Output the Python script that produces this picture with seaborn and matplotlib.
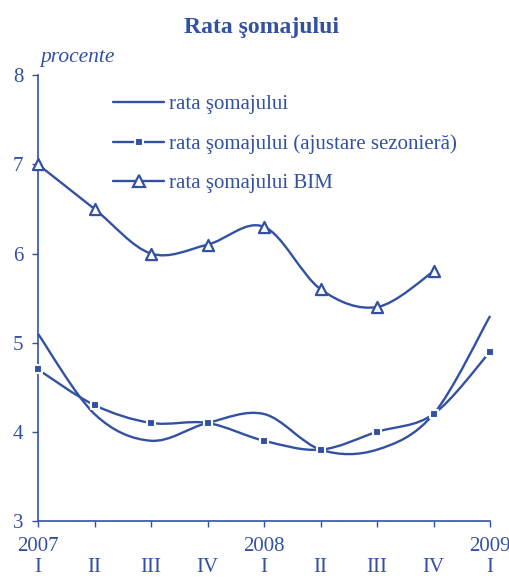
import matplotlib.pyplot as plt
import seaborn as sns
import numpy as np
import pandas as pd
from matplotlib.path import Path
from matplotlib.patches import PathPatch
from matplotlib.lines import Line2D

quarters = ['I', 'II', 'III', 'IV', 'I', 'II', 'III', 'IV', 'I']
years = {0: '2007', 4: '2008', 8: '2009'}
rata = [5.1, 4.2, 3.9, 4.1, 4.2, 3.8, 3.8, 4.2, 5.3]
rata_sa = [4.7, 4.3, 4.1, 4.1, 3.9, 3.8, 4.0, 4.2, 4.9]
rata_bim = [7.0, 6.5, 6.0, 6.1, 6.3, 5.6, 5.4, 5.8]

labels = ['rata şomajului', 'rata şomajului (ajustare sezonieră)', 'rata şomajului BIM']

blue = '#3351a3'

sns.set_style('white')
plt.rcParams['font.family'] = ['Liberation Serif', 'DejaVu Serif']


def smooth_path(xs, ys):
    # Excel-like smoothed line: cubic Bezier through the data points
    pts = np.column_stack([xs, ys]).astype(float)
    n = len(pts)
    verts = [pts[0]]
    codes = [Path.MOVETO]
    for i in range(n - 1):
        p0 = pts[i - 1] if i > 0 else pts[i]
        p1 = pts[i]
        p2 = pts[i + 1]
        p3 = pts[i + 2] if i + 2 < n else pts[i + 1]
        c1 = p1 + (p2 - p0) / 6.0
        c2 = p2 - (p3 - p1) / 6.0
        verts += [c1, c2, p2]
        codes += [Path.CURVE4] * 3
    return Path(verts, codes)


fig = plt.figure(figsize=(5.1, 5.79), dpi=100)
ax = fig.add_axes([0.0745, 0.1002, 0.8865, 0.7698])

x = np.arange(len(quarters))
for vals in [rata, rata_sa, rata_bim]:
    ax.add_patch(PathPatch(smooth_path(x[:len(vals)], vals), fill=False,
                           edgecolor=blue, lw=1.7, transform=ax.transData,
                           clip_on=False))

df_sa = pd.DataFrame({'x': x, 'y': rata_sa})
df_bim = pd.DataFrame({'x': x[:len(rata_bim)], 'y': rata_bim})
sns.scatterplot(data=df_sa, x='x', y='y', marker='s', s=40, color=blue,
                edgecolor='white', linewidth=1.5, ax=ax, zorder=5, clip_on=False)
sns.scatterplot(data=df_bim, x='x', y='y', marker='^', s=64, color='white',
                edgecolor=blue, linewidth=1.6, ax=ax, zorder=5, clip_on=False)

ax.set_xlim(0, 8)
ax.set_ylim(3, 8)
ax.set_xlabel('')
ax.set_ylabel('')
ax.set_yticks([3, 4, 5, 6, 7, 8])
ax.set_xticks(x)
ax.set_xticklabels([years.get(i, '') + '\n' + q for i, q in enumerate(quarters)],
                   linespacing=1.18)

for side in ['top', 'right']:
    ax.spines[side].set_visible(False)
for side in ['left', 'bottom']:
    ax.spines[side].set_color(blue)
    ax.spines[side].set_linewidth(1.2)
ax.tick_params(axis='both', colors=blue, labelcolor=blue, labelsize=15,
               direction='out', length=4.5, width=1.0, left=True, bottom=True)
ax.tick_params(axis='y', pad=6)
ax.tick_params(axis='x', pad=7)

handles = [
    Line2D([], [], color=blue, lw=1.7),
    Line2D([], [], color=blue, lw=1.7, marker='s', markersize=6,
           markerfacecolor=blue, markeredgecolor='white', markeredgewidth=1.5),
    Line2D([], [], color=blue, lw=1.7, marker='^', markersize=9,
           markerfacecolor='white', markeredgecolor=blue, markeredgewidth=1.6),
]
leg = ax.legend(handles, labels, loc='upper left', bbox_to_anchor=(0.148, 0.975),
                frameon=False, fontsize=15, handlelength=2.45, handletextpad=0.25,
                labelspacing=0.95, borderaxespad=0)
for t in leg.get_texts():
    t.set_color(blue)

fig.text(0.512, 0.953, 'Rata şomajului', ha='center', va='center',
         fontsize=17, fontweight='bold', color=blue)
fig.text(0.078, 0.893, 'procente', ha='left', va='baseline',
         fontsize=15.5, style='italic', color=blue)

fig.savefig('out.png', dpi=100)
